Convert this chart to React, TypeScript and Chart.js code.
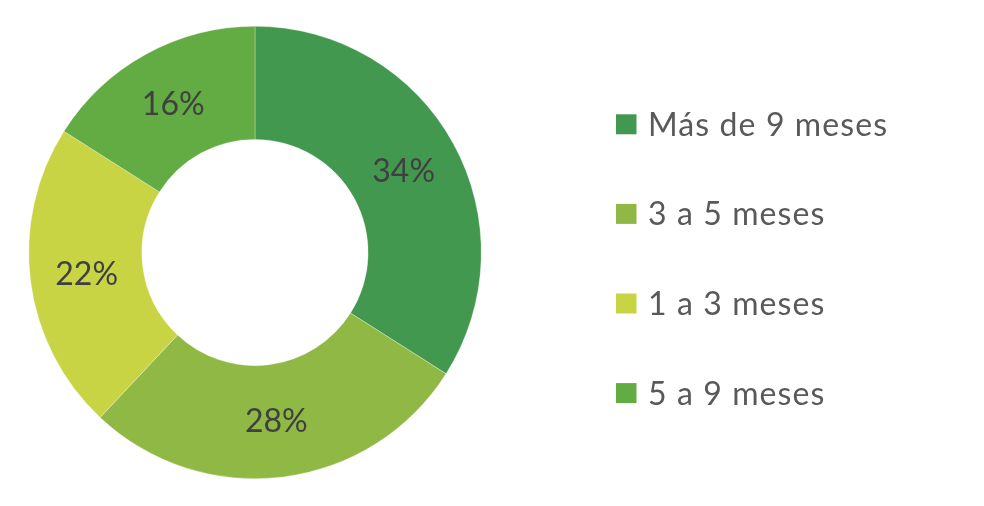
import React, { useEffect, useRef } from "react";
import { Chart, registerables } from "chart.js";

Chart.register(...registerables);

const categories = ["Más de 9 meses", "3 a 5 meses", "1 a 3 meses", "5 a 9 meses"];
const shares = [34, 28, 22, 16];
const sliceColors = ["#43984F", "#8FB944", "#C8D444", "#62AC43"];

const FONT = "Lato, 'Open Sans', sans-serif";

const sliceLabelPlugin = {
  id: "sliceLabels",
  afterDatasetsDraw(chart: any) {
    const ctx = chart.ctx;
    const meta = chart.getDatasetMeta(0);
    const data = chart.data.datasets[0].data as number[];
    ctx.save();
    ctx.font = `32px ${FONT}`;
    ctx.fillStyle = "#404040";
    ctx.textAlign = "center";
    ctx.textBaseline = "alphabetic";
    meta.data.forEach((arc: any, i: number) => {
      const p = arc.getCenterPoint();
      ctx.fillText(`${data[i]}%`, p.x, p.y + 11.5);
    });
    ctx.restore();
  },
};

const sideLegendPlugin = {
  id: "sideLegend",
  afterDraw(chart: any) {
    const ctx = chart.ctx;
    const labels = chart.data.labels as string[];
    const colors = chart.data.datasets[0].backgroundColor as string[];
    const top = 124.3;
    const step = 89.6;
    ctx.save();
    ctx.font = `32px ${FONT}`;
    (ctx as any).letterSpacing = "1.1px";
    ctx.textAlign = "left";
    ctx.textBaseline = "alphabetic";
    labels.forEach((lab, i) => {
      const cy = top + i * step;
      ctx.fillStyle = colors[i];
      ctx.fillRect(616, cy - 10, 20.5, 20);
      ctx.fillStyle = "#595959";
      ctx.fillText(lab, 648, cy + 11.5);
    });
    ctx.restore();
  },
};

export default function App() {
  const ref = useRef<HTMLCanvasElement | null>(null);
  useEffect(() => {
    if (!ref.current) return;
    const chart = new Chart(ref.current, {
      type: "doughnut",
      data: {
        labels: categories,
        datasets: [
          {
            data: shares,
            backgroundColor: sliceColors,
            borderColor: "rgba(255,255,255,0.6)",
            borderWidth: 0.5,
          },
        ],
      },
      options: {
        animation: false,
        responsive: false,
        maintainAspectRatio: false,
        cutout: "50%",
        rotation: 0,
        layout: { padding: { left: 28.5, top: 26, bottom: 27, right: 502.5 } },
        plugins: {
          legend: { display: false },
          tooltip: { enabled: false },
        },
      },
      plugins: [sliceLabelPlugin, sideLegendPlugin],
    });
    return () => chart.destroy();
  }, []);
  return (
    <div style={{ position: "absolute", left: 0, top: 0, width: 984, height: 506, background: "#fff" }}>
      <canvas ref={ref} width={984} height={506} style={{ width: 984, height: 506 }} />
    </div>
  );
}
